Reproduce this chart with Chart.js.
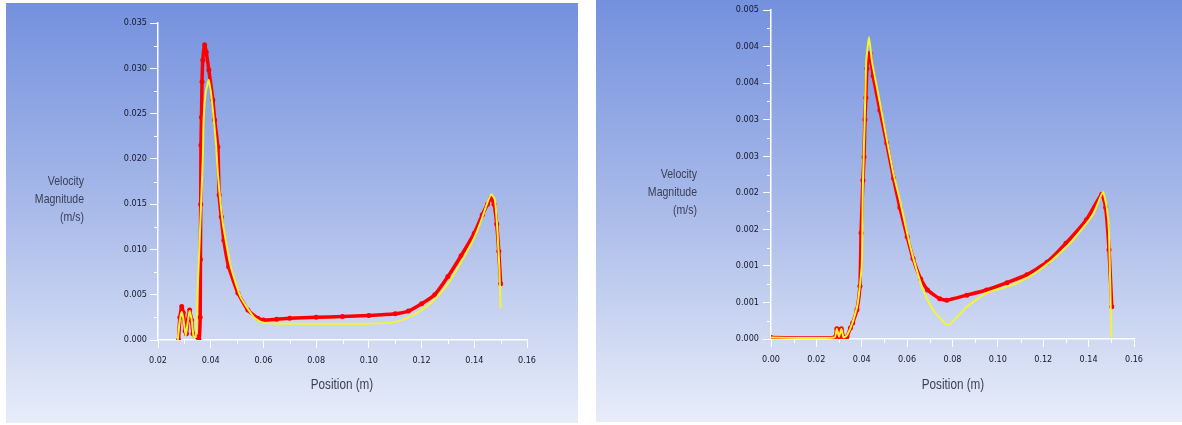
<!DOCTYPE html>
<html><head><meta charset="utf-8">
<script src="https://cdn.jsdelivr.net/npm/chart.js@4.4.0/dist/chart.umd.min.js"></script>
<style>
html,body{margin:0;padding:0;background:#fff;width:1182px;height:425px;overflow:hidden;position:relative;font-family:'Liberation Sans',Arial,sans-serif;}
.panel{position:absolute;}
.ytitle{position:absolute;text-align:right;font-size:13.5px;line-height:18px;color:#3a3e55;white-space:nowrap;transform:scaleX(0.78);transform-origin:right top;}
.xtitle{position:absolute;font-size:15px;color:#3a3e55;transform:translateX(-50%) scaleX(0.78);white-space:nowrap;}
</style></head>
<body>
<div class="panel" style="left:6px;top:3px;width:572px;height:420px"><canvas id="c1" width="572" height="420"></canvas></div>
<div class="panel" style="left:596px;top:0px;width:586px;height:422px"><canvas id="c2" width="586" height="422"></canvas></div>
<div class="ytitle" style="right:1098px;top:172px">Velocity<br>Magnitude<br>(m/s)</div>
<div class="xtitle" style="left:342px;top:375px">Position (m)</div>
<div class="ytitle" style="right:485px;top:165px">Velocity<br>Magnitude<br>(m/s)</div>
<div class="xtitle" style="left:953px;top:375px">Position (m)</div>
<script>
// ---------- Left chart data ----------
const leftRedX = [0.0278,0.0283,0.0290,0.0296,0.0303,0.0308,0.0313,0.0320,0.0327,0.0333,0.0340,0.0350,0.0356,0.0360,0.0361,0.0362,0.0363,0.0365,0.0367,0.0370,0.0377,0.0383,0.0393,0.0408,0.0415,0.0427,0.0432,0.0440,0.0450,0.0468,0.0503,0.0541,0.0579,0.0600,0.0650,0.0700,0.0800,0.0900,0.1000,0.1100,0.1150,0.1200,0.1250,0.1300,0.1350,0.1400,0.1430,0.1450,0.1463,0.1475,0.1485,0.1493,0.1500];
const leftRedY = [0.0000,0.0025,0.0037,0.0030,0.0010,0.0007,0.0022,0.0033,0.0022,0.0007,0.0005,0.0003,0.0000,0.0025,0.0089,0.0150,0.0215,0.0246,0.0285,0.0309,0.0326,0.0318,0.0298,0.0265,0.0243,0.0213,0.0160,0.0136,0.0110,0.0081,0.0052,0.0033,0.0024,0.0022,0.0023,0.0024,0.0025,0.0026,0.0027,0.0029,0.0032,0.0040,0.0050,0.0070,0.0093,0.0118,0.0138,0.0150,0.0157,0.0150,0.0128,0.0098,0.0062];
const leftYellowX = [0.0275,0.0282,0.0290,0.0297,0.0305,0.0313,0.0320,0.0328,0.0335,0.0343,0.0350,0.0358,0.0370,0.0373,0.0381,0.0392,0.0400,0.0408,0.0420,0.0427,0.0446,0.0476,0.0514,0.0564,0.0590,0.0650,0.0800,0.1000,0.1100,0.1150,0.1200,0.1250,0.1300,0.1350,0.1400,0.1430,0.1450,0.1465,0.1478,0.1488,0.1495,0.1500];
const leftYellowY = [0.0000,0.0020,0.0031,0.0022,0.0005,0.0020,0.0032,0.0022,0.0004,0.0003,0.0052,0.0110,0.0200,0.0243,0.0273,0.0287,0.0275,0.0254,0.0217,0.0184,0.0129,0.0081,0.0047,0.0025,0.0020,0.0018,0.0018,0.0018,0.0020,0.0025,0.0033,0.0045,0.0062,0.0086,0.0113,0.0135,0.0152,0.0161,0.0155,0.0120,0.0080,0.0036];
const leftXTicks = [0.02,0.03,0.04,0.05,0.06,0.07,0.08,0.09,0.10,0.11,0.12,0.13,0.14,0.15,0.16];
const leftXLabels = ['0.02','0.04','0.06','0.08','0.10','0.12','0.14','0.16'];
const leftYTicks = [0,0.0025,0.005,0.0075,0.01,0.0125,0.015,0.0175,0.02,0.0225,0.025,0.0275,0.03,0.0325,0.035];
const leftYLabels = ['0.000','0.005','0.010','0.015','0.020','0.025','0.030','0.035'];

// ---------- Right chart data ----------
const rightRedX = [0.000,0.028,0.029,0.030,0.031,0.032,0.033,0.0335,0.0350,0.0360,0.0379,0.0392,0.0397,0.0405,0.0410,0.0414,0.0418,0.0423,0.0436,0.0450,0.0480,0.0510,0.0540,0.0568,0.0600,0.0626,0.0660,0.0690,0.0744,0.0775,0.0863,0.0950,0.1040,0.1128,0.1216,0.1300,0.1390,0.1458,0.1475,0.1490,0.1502];
const rightRedY = [0.00002,0.00002,0.00014,0.00003,0.00014,0.00002,0.00000,0.00003,0.00015,0.00022,0.00040,0.00072,0.00145,0.00217,0.00249,0.00300,0.00330,0.00370,0.00391,0.00360,0.00313,0.00268,0.00220,0.00180,0.00140,0.00110,0.00082,0.00067,0.00055,0.00053,0.00060,0.00067,0.00077,0.00088,0.00105,0.00131,0.00163,0.00198,0.00180,0.00122,0.00044];
const rightYellowX = [0.000,0.028,0.029,0.030,0.031,0.032,0.0335,0.0360,0.0383,0.0400,0.0405,0.0413,0.0420,0.0432,0.0445,0.0480,0.0537,0.0568,0.0600,0.0626,0.0670,0.0714,0.0780,0.0863,0.0950,0.1066,0.1154,0.1240,0.1330,0.1419,0.1463,0.1480,0.1490,0.1500];
const rightYellowY = [0.00002,0.00002,0.00014,0.00003,0.00014,0.00002,0.00005,0.00023,0.00050,0.00100,0.00210,0.00300,0.00380,0.00413,0.00380,0.00323,0.00230,0.00190,0.00145,0.00112,0.00067,0.00040,0.00019,0.00044,0.00063,0.00074,0.00088,0.00108,0.00135,0.00170,0.00201,0.00180,0.00145,0.00003];
const rightXTicks = [0,0.01,0.02,0.03,0.04,0.05,0.06,0.07,0.08,0.09,0.10,0.11,0.12,0.13,0.14,0.15,0.16];
const rightXLabels = ['0.00','0.02','0.04','0.06','0.08','0.10','0.12','0.14','0.16'];
const rightYTicks = [0,0.00025,0.0005,0.00075,0.001,0.00125,0.0015,0.00175,0.002,0.00225,0.0025,0.00275,0.003,0.00325,0.0035,0.00375,0.004,0.00425,0.0045];
const rightYLabels = ['0.000','0.001','0.001','0.002','0.002','0.003','0.003','0.004','0.004','0.005'];

const FONT = "'DejaVu Sans Condensed','Liberation Sans',Arial,sans-serif";
const RED = '#ff0000';
const YELLOW = '#f2f535';

const zip = (xs, ys) => xs.map((x, i) => ({x: x, y: ys[i]}));

const bgPlugin = {
  id: 'bg',
  beforeDraw(chart) {
    const c = chart.ctx, h = chart.height, w = chart.width;
    const g = c.createLinearGradient(0, 0, 0, h);
    g.addColorStop(0, '#7491de');
    g.addColorStop(0.5, '#aabbe9');
    g.addColorStop(1, '#e8edf9');
    c.save(); c.fillStyle = g; c.fillRect(0, 0, w, h); c.restore();
  }
};
const minorTickPlugin = {
  id: 'minorTicks',
  afterDraw(chart) {
    const c = chart.ctx;
    c.save(); c.strokeStyle = '#ffffff'; c.lineWidth = 1;
    Object.values(chart.scales).forEach(s => {
      s.ticks.forEach(t => {
        if (t.label !== '') return;
        const p = s.getPixelForValue(t.value);
        c.beginPath();
        if (s.isHorizontal()) { c.moveTo(Math.round(p) + 0.5, s.top); c.lineTo(Math.round(p) + 0.5, s.top + 4); }
        else { c.moveTo(s.right - 4, Math.round(p) + 0.5); c.lineTo(s.right, Math.round(p) + 0.5); }
        c.stroke();
      });
    });
    c.restore();
  }
};

function axis(min, max, tickVals, labels, horizontal, fitSize, tickPad) {
  return {
    type: 'linear', min: min, max: max,
    afterBuildTicks: s => { s.ticks = tickVals.map(v => ({value: v})); },
    afterFit: s => { if (horizontal) s.height = fitSize; else s.width = fitSize; },
    grid: {
      display: true, drawOnChartArea: false, drawTicks: true, tickLength: 8,
      color: ctx => (ctx.tick && ctx.tick.label === '') ? 'rgba(0,0,0,0)' : '#ffffff',
      lineWidth: 1
    },
    border: {display: true, color: '#ffffff', width: 1.5},
    ticks: {
      autoSkip: false, maxRotation: 0, padding: tickPad,
      color: '#15182a', font: {family: FONT, size: 9},
      callback: (v, i) => (i % 2 === 0 ? labels[i / 2] : '')
    }
  };
}

function makeChart(id, red, yellow, xs, ys, pad) {
  return new Chart(document.getElementById(id), {
    type: 'line',
    data: {datasets: [
      {label: 'red', data: red, borderColor: RED, borderWidth: 3.5, pointRadius: 2.5, pointBackgroundColor: RED, pointBorderWidth: 0,
       tension: 0.15, borderJoinStyle: 'round', borderCapStyle: 'round', order: 2},
      {label: 'yellow', data: yellow, borderColor: YELLOW, borderWidth: 2, pointRadius: 0,
       tension: 0.15, borderJoinStyle: 'round', borderCapStyle: 'round', order: 1}
    ]},
    options: {
      responsive: false, animation: false, devicePixelRatio: 1,
      layout: {padding: pad},
      plugins: {legend: {display: false}, tooltip: {enabled: false}},
      scales: {x: xs, y: ys}
    },
    plugins: [bgPlugin, minorTickPlugin]
  });
}

makeChart('c1', zip(leftRedX, leftRedY), zip(leftYellowX, leftYellowY),
  axis(0.02, 0.16, leftXTicks, leftXLabels, true, 83, 7),
  axis(0, 0.035, leftYTicks, leftYLabels, false, 152, 3),
  {left: 0, right: 51, top: 20, bottom: 0});

makeChart('c2', zip(rightRedX, rightRedY), zip(rightYellowX, rightYellowY),
  axis(0, 0.16, rightXTicks, rightXLabels, true, 83, 7),
  axis(0, 0.0045, rightYTicks, rightYLabels, false, 175, 4),
  {left: 0, right: 48, top: 10, bottom: 0});
</script>
</body></html>
